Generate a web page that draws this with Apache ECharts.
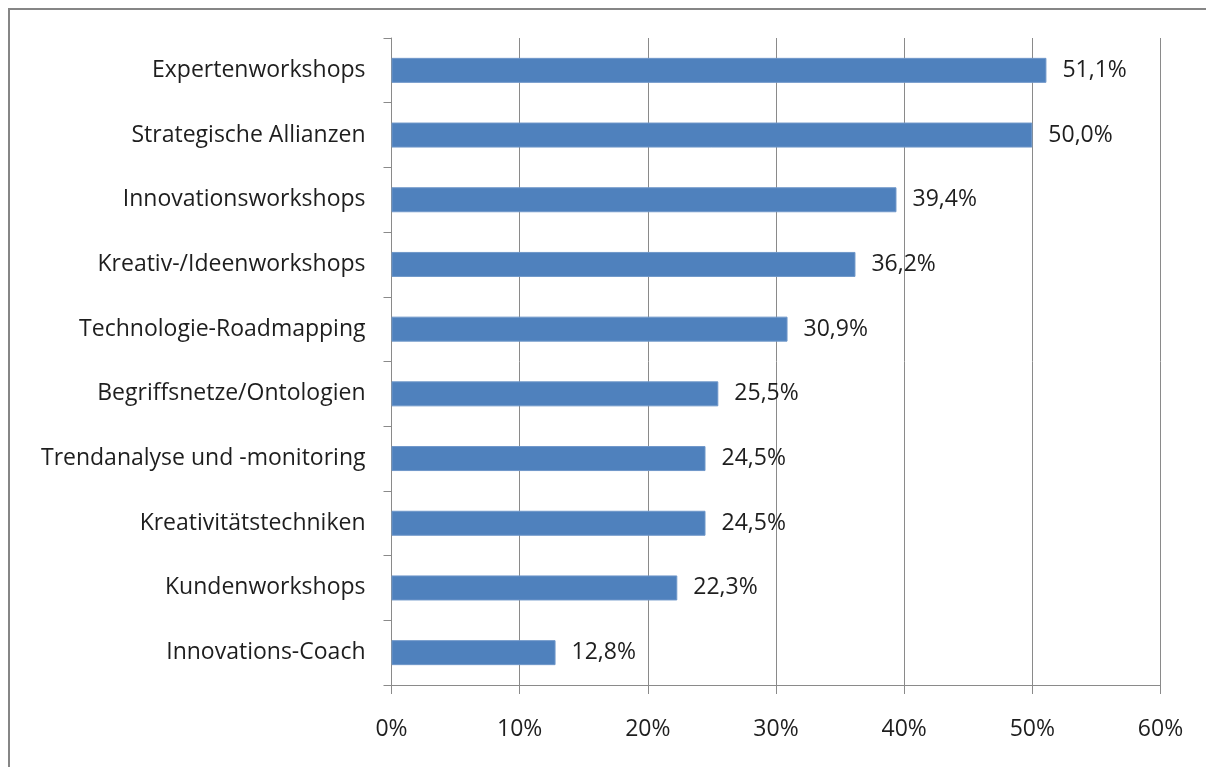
<!DOCTYPE html>
<html>
<head>
<meta charset="utf-8">
<script src="https://cdn.jsdelivr.net/npm/echarts@6/dist/echarts.min.js"></script>
<style>
  html, body { margin: 0; padding: 0; background: #ffffff; }
  #chart { width: 1206px; height: 767px; }
</style>
</head>
<body>
<div id="chart"></div>
<script>
// Methods used, share of respondents in percent
const categories = [
  'Expertenworkshops',
  'Strategische Allianzen',
  'Innovationsworkshops',
  'Kreativ-/Ideenworkshops',
  'Technologie-Roadmapping',
  'Begriffsnetze/Ontologien',
  'Trendanalyse und -monitoring',
  'Kreativitätstechniken',
  'Kundenworkshops',
  'Innovations-Coach'
];
const values = [51.1, 50.0, 39.4, 36.2, 30.9, 25.5, 24.5, 24.5, 22.3, 12.8];
const axisTicks = [0, 10, 20, 30, 40, 50, 60];

const FONT = '"Open Sans", Lato, sans-serif';
const TEXT = '#1e1e1e';
const LINE = '#8a8a8a';

const chart = echarts.init(document.getElementById('chart'), null, { renderer: 'canvas' });

chart.setOption({
  animation: false,
  backgroundColor: '#ffffff',
  grid: { left: 391.5, right: 45.5, top: 38, bottom: 82, containLabel: false },
  graphic: [{
    type: 'rect',
    shape: { x: 9, y: 9, width: 1220, height: 780 },
    style: { fill: 'none', stroke: '#868686', lineWidth: 2 },
    silent: true
  }],
  xAxis: {
    type: 'value',
    min: axisTicks[0],
    max: axisTicks[axisTicks.length - 1],
    interval: axisTicks[1] - axisTicks[0],
    axisLine: { show: true, lineStyle: { color: LINE, width: 1 } },
    axisTick: { show: true, length: 9, lineStyle: { color: LINE } },
    splitLine: { show: true, lineStyle: { color: LINE, width: 1 } },
    axisLabel: {
      margin: 33,
      color: TEXT,
      fontFamily: FONT,
      fontSize: 23,
      formatter: '{value}%'
    }
  },
  yAxis: {
    type: 'category',
    data: categories,
    inverse: true,
    axisLine: { show: true, lineStyle: { color: LINE, width: 1 } },
    axisTick: { show: true, length: 8, alignWithLabel: false, lineStyle: { color: LINE } },
    splitLine: { show: false },
    axisLabel: {
      margin: 26,
      color: TEXT,
      fontFamily: FONT,
      fontSize: 23,
      padding: [3, 0, 0, 0]
    }
  },
  series: [{
    type: 'bar',
    data: values,
    barWidth: 25,
    itemStyle: { color: '#4f81bd', borderColor: '#6f97c9', borderWidth: 1 },
    label: {
      show: true,
      position: 'right',
      distance: 16,
      color: TEXT,
      fontFamily: FONT,
      fontSize: 23,
      padding: [3, 0, 0, 0],
      formatter: p => p.value.toFixed(1).replace('.', ',') + '%'
    }
  }]
});
</script>
</body>
</html>
